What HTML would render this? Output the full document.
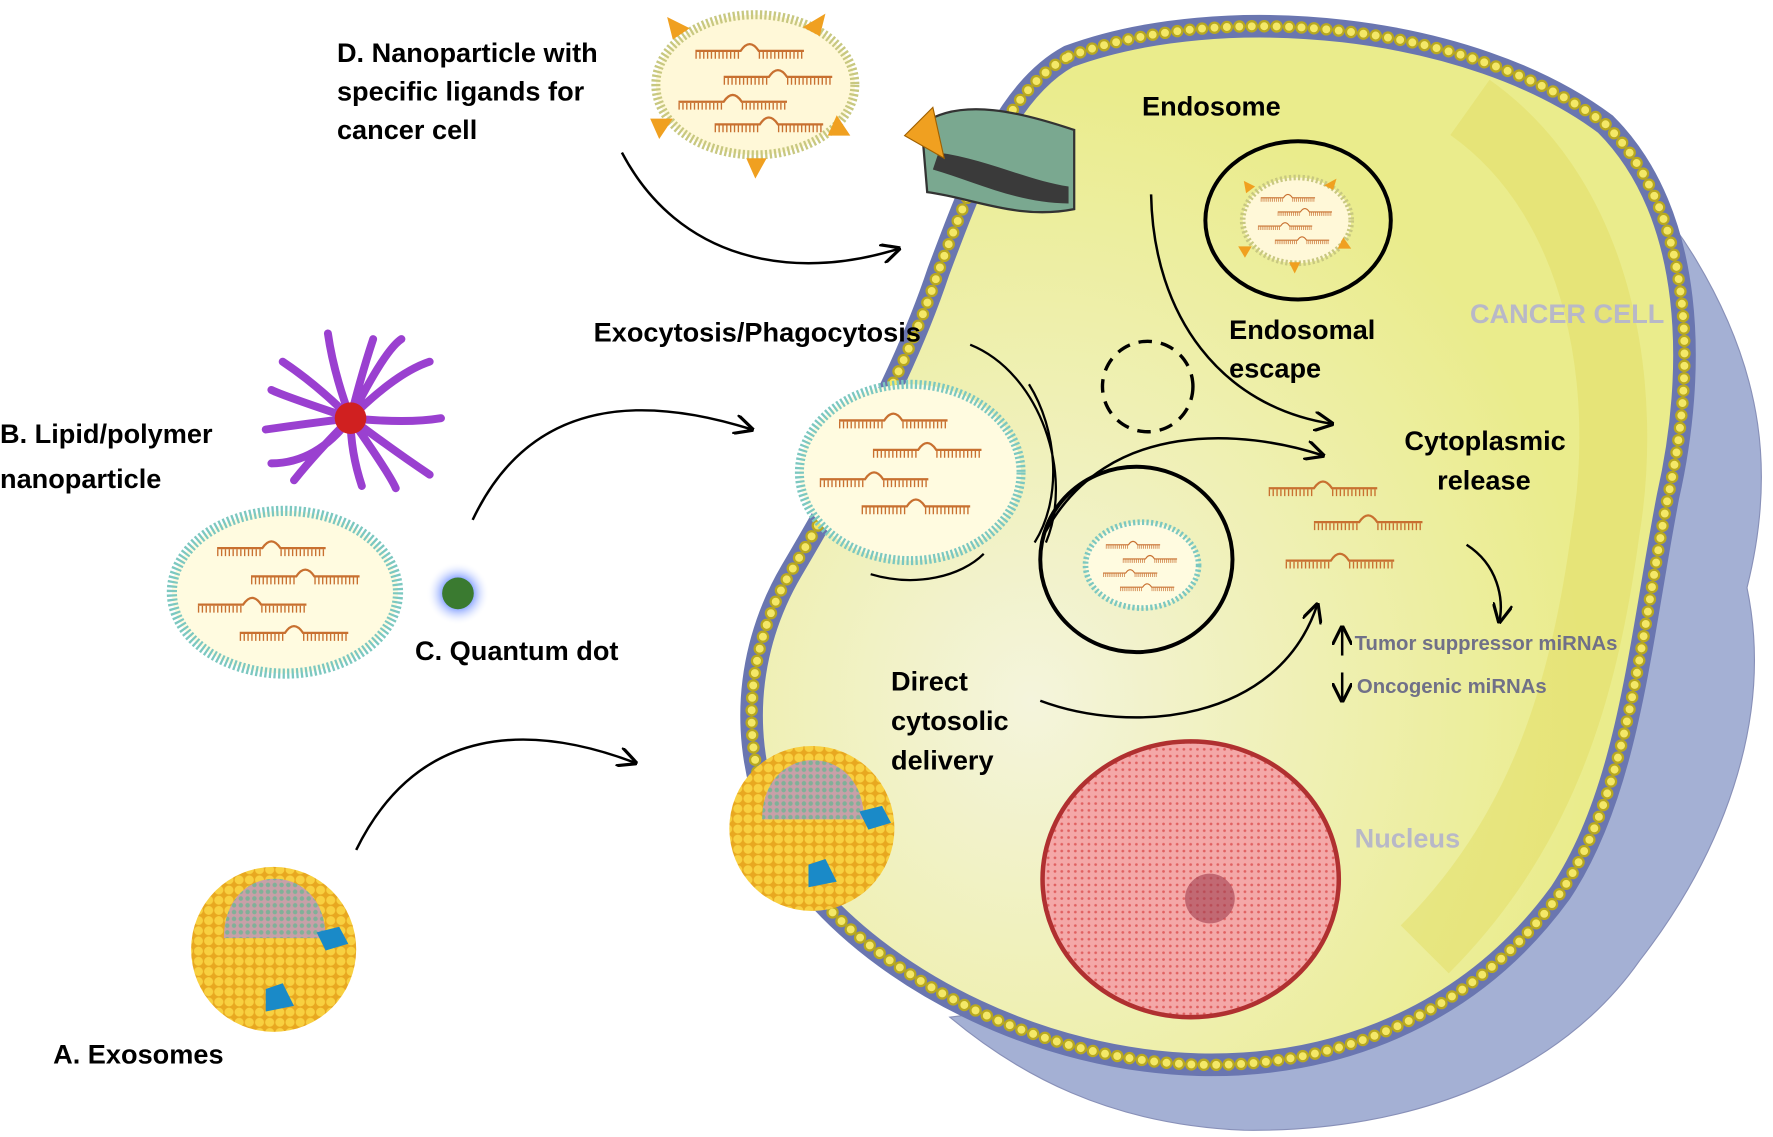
<!DOCTYPE html>
<html><head><meta charset="utf-8"><style>
html,body{margin:0;padding:0;background:#fff}
svg{display:block}
text{font-family:"Liberation Sans",sans-serif;font-weight:bold}
</style></head><body>
<svg width="1773" height="1137" viewBox="0 0 1568 1006" preserveAspectRatio="none" xmlns="http://www.w3.org/2000/svg">
<defs>
<marker id="ar" viewBox="0 0 10 10" refX="9" refY="5" markerWidth="8" markerHeight="8" orient="auto"><path d="M0,0 L10,5 L0,10" fill="none" stroke="#000" stroke-width="1.6"/></marker>
<radialGradient id="cy" cx="0.3" cy="0.65" r="0.6"><stop offset="0" stop-color="#f4f4dc"/><stop offset="1" stop-color="#eaec8c"/></radialGradient>
<radialGradient id="qd" cx="0.5" cy="0.5" r="0.5"><stop offset="0.4" stop-color="#6a8cff"/><stop offset="1" stop-color="#fff" stop-opacity="0"/></radialGradient>
<pattern id="dots" width="6" height="6" patternUnits="userSpaceOnUse"><rect width="6" height="6" fill="#f4a8a8"/><circle cx="3" cy="3" r="1.2" fill="#e06060"/></pattern>
<pattern id="gold" width="9" height="9" patternUnits="userSpaceOnUse"><rect width="9" height="9" fill="#e8a820"/><circle cx="4.5" cy="4.5" r="4" fill="#f8d040"/></pattern>
<pattern id="pk" width="6" height="6" patternUnits="userSpaceOnUse"><rect width="6" height="6" fill="#c8a0a8"/><circle cx="3" cy="3" r="2" fill="#80b098"/></pattern>
<g id="rna"><path d="M0,0 h40 q8,-12 16,0 h40" fill="none" stroke="#c87030" stroke-width="2"/><path d="M0,0 h40 M56,0 h40" stroke="#c87030" stroke-width="6" stroke-dasharray="1.2 2.2" transform="translate(0,4)"/></g>
</defs>
<!-- shadow -->
<path d="M960,40 C1150,0 1400,60 1500,230 C1560,330 1570,420 1545,520 C1570,640 1520,760 1450,850 C1380,950 1250,1002 1100,1000 C980,995 900,950 840,900 L1000,880 Z" fill="#a4b0d4" stroke="#8890b8"/>
<!-- cell -->
<path d="M945,50 C1080,0 1300,20 1420,110 C1500,190 1500,330 1475,440 C1450,570 1440,700 1380,790 C1300,900 1180,945 1060,942 C920,938 790,870 720,790 C650,700 650,590 700,505 C750,420 800,330 830,240 C860,160 890,80 945,50 Z" fill="url(#cy)" stroke="#6a76b0" stroke-width="20"/>
<path d="M1300,95 C1420,180 1440,350 1420,470 C1400,620 1360,740 1260,840" fill="none" stroke="#e2dc60" stroke-width="60" opacity="0.45"/>
<path d="M945,50 C1080,0 1300,20 1420,110 C1500,190 1500,330 1475,440 C1450,570 1440,700 1380,790 C1300,900 1180,945 1060,942 C920,938 790,870 720,790 C650,700 650,590 700,505 C750,420 800,330 830,240 C860,160 890,80 945,50 Z" fill="none" stroke="#b8a820" stroke-width="11" stroke-dasharray="0 11" stroke-linecap="round"/>
<path d="M945,50 C1080,0 1300,20 1420,110 C1500,190 1500,330 1475,440 C1450,570 1440,700 1380,790 C1300,900 1180,945 1060,942 C920,938 790,870 720,790 C650,700 650,590 700,505 C750,420 800,330 830,240 C860,160 890,80 945,50 Z" fill="none" stroke="#f4e868" stroke-width="7" stroke-dasharray="0 11" stroke-linecap="round"/>
<!-- receptor -->
<path d="M815,110 C850,85 905,100 950,115 L950,185 C900,195 860,175 820,170 Z" fill="#7aa890" stroke="#333" stroke-width="2"/>
<path d="M830,135 C870,140 910,160 945,165 L945,180 C900,180 860,160 825,150Z" fill="#3a3a3a"/>
<path d="M800,120 L825,95 L835,140 Z" fill="#f0a020" stroke="#a06000"/>
<!-- D nanoparticle -->
<ellipse cx="668" cy="75" rx="88" ry="62" fill="#fff8d8" stroke="#c8c880" stroke-width="8" stroke-dasharray="2 2"/>
<path d="M590,15 l20,10 -15,10Z M730,12 l-5,20 -15,-8Z M575,105 l20,0 -12,18Z M752,120 l-20,0 8,-18Z M660,140 l18,0 -10,18Z" fill="#f0a020"/>
<use href="#rna" x="615" y="45"/><use href="#rna" x="640" y="68"/><use href="#rna" x="600" y="90"/><use href="#rna" x="632" y="110"/>
<!-- endosome -->
<ellipse cx="1148" cy="195" rx="82" ry="70" fill="none" stroke="#000" stroke-width="3.5"/>
<ellipse cx="1147" cy="195" rx="48" ry="38" fill="#fff8d8" stroke="#c8c880" stroke-width="5" stroke-dasharray="2 2"/>
<path d="M1100,160 l10,5 -8,6Z M1182,158 l-3,10 -8,-4Z M1095,218 l12,0 -6,10Z M1195,220 l-12,0 5,-10Z M1140,232 l10,0 -5,10Z" fill="#f0a020"/>
<g transform="translate(1115,175) scale(0.5)"><use href="#rna"/><use href="#rna" x="30" y="25"/><use href="#rna" x="-5" y="50"/><use href="#rna" x="25" y="75"/></g>
<circle cx="1015" cy="342" r="40" fill="none" stroke="#000" stroke-width="3" stroke-dasharray="12 8"/>
<!-- endocytosed particle -->
<ellipse cx="805" cy="418" rx="98" ry="78" fill="#fffbe0" stroke="#7cc8c0" stroke-width="8" stroke-dasharray="2 2"/>
<use href="#rna" x="742" y="372"/><use href="#rna" x="772" y="398"/><use href="#rna" x="725" y="424"/><use href="#rna" x="762" y="448"/>
<path d="M858,305 C920,330 950,420 925,480 M770,508 C810,520 850,510 870,490 M910,340 C935,380 940,440 915,480" fill="none" stroke="#000" stroke-width="2"/>
<ellipse cx="1005" cy="495" rx="85" ry="82" fill="none" stroke="#000" stroke-width="3.5"/>
<ellipse cx="1010" cy="500" rx="50" ry="38" fill="#fffbe0" stroke="#7cc8c0" stroke-width="5" stroke-dasharray="2 2"/>
<g transform="translate(978,482) scale(0.5)"><use href="#rna"/><use href="#rna" x="30" y="25"/><use href="#rna" x="-5" y="50"/><use href="#rna" x="25" y="75"/></g>
<!-- B particle -->
<ellipse cx="252" cy="524" rx="100" ry="72" fill="#fffbe0" stroke="#7cc8c0" stroke-width="9" stroke-dasharray="2 2"/>
<use href="#rna" x="192" y="485"/><use href="#rna" x="222" y="510"/><use href="#rna" x="175" y="535"/><use href="#rna" x="212" y="560"/>
<g stroke="#9a40d0" stroke-width="7" stroke-linecap="round" fill="none">
<path d="M310,370 Q320,330 330,300 M310,370 Q350,330 380,320 M310,370 Q360,375 390,370 M310,370 Q350,400 380,420 M310,370 Q310,400 320,430 M310,370 Q280,400 260,425 M310,370 Q270,375 235,380 M310,370 Q280,340 250,320 M310,370 Q295,330 290,295 M310,370 Q340,310 355,300 M310,370 Q345,420 350,432 M310,370 Q250,350 240,345 M310,370 Q280,410 240,410"/></g>
<circle cx="310" cy="370" r="14" fill="#d02020"/>
<circle cx="405" cy="525" r="28" fill="url(#qd)"/><circle cx="405" cy="525" r="14" fill="#3a7a30"/>
<!-- exosomes -->
<circle cx="242" cy="840" r="73" fill="url(#gold)"/>
<path d="M198,830 C198,760 288,760 288,830 Z" fill="url(#pk)"/>
<circle cx="718" cy="733" r="73" fill="url(#gold)"/>
<path d="M674,725 C674,655 764,655 764,725 Z" fill="url(#pk)"/>
<path d="M235,875 l15,-5 10,20 -25,5Z M715,765 l15,-5 10,20 -25,5Z M280,825 l20,-5 8,15 -20,6Z M760,718 l20,-5 8,15 -20,6Z" fill="#1a8ac8"/>
<!-- nucleus -->
<ellipse cx="1053" cy="778" rx="131" ry="122" fill="url(#dots)" stroke="#b03030" stroke-width="4"/>
<circle cx="1070" cy="795" r="22" fill="#a04050" opacity="0.6"/>
<!-- rna released -->
<use href="#rna" x="1122" y="432"/><use href="#rna" x="1162" y="462"/><use href="#rna" x="1137" y="496"/>
<!-- arrows -->
<g fill="none" stroke="#000" stroke-width="2.2" marker-end="url(#ar)">
<path d="M550,135 C600,230 700,250 795,220"/>
<path d="M418,460 C470,350 570,350 665,380"/>
<path d="M315,752 C370,640 470,640 562,675"/>
<path d="M1018,172 C1020,280 1080,360 1178,375"/>
<path d="M925,470 C980,370 1100,380 1170,403"/>
<path d="M920,620 C1000,650 1130,640 1165,535"/>
<path d="M1297,482 C1325,500 1330,530 1326,550"/>
<path d="M1187,580 v-25"/><path d="M1187,595 v25"/>
</g>
<!-- labels -->
<g font-size="24" fill="#000">
<text x="298" y="55">D.  Nanoparticle with</text>
<text x="298" y="89">specific ligands for</text>
<text x="298" y="123">cancer cell</text>
<text x="1010" y="102">Endosome</text>
<text x="525" y="302">Exocytosis/Phagocytosis</text>
<text x="1087" y="300">Endosomal</text><text x="1087" y="334">escape</text>
<text x="1242" y="398">Cytoplasmic</text><text x="1271" y="433">release</text>
<text x="0" y="392">B. Lipid/polymer</text><text x="0" y="432">nanoparticle</text>
<text x="367" y="584">C. Quantum dot</text>
<text x="788" y="611">Direct</text><text x="788" y="646">cytosolic</text><text x="788" y="681">delivery</text>
<text x="47" y="941">A. Exosomes</text>
</g>
<text x="1300" y="286" font-size="24" fill="#b8b8c8">CANCER CELL</text>
<text x="1198" y="750" font-size="24" fill="#b8b8c8">Nucleus</text>
<text x="1198" y="575" font-size="18" fill="#707088">Tumor suppressor miRNAs</text>
<text x="1200" y="613" font-size="18" fill="#707088">Oncogenic miRNAs</text>
</svg>
</body></html>
